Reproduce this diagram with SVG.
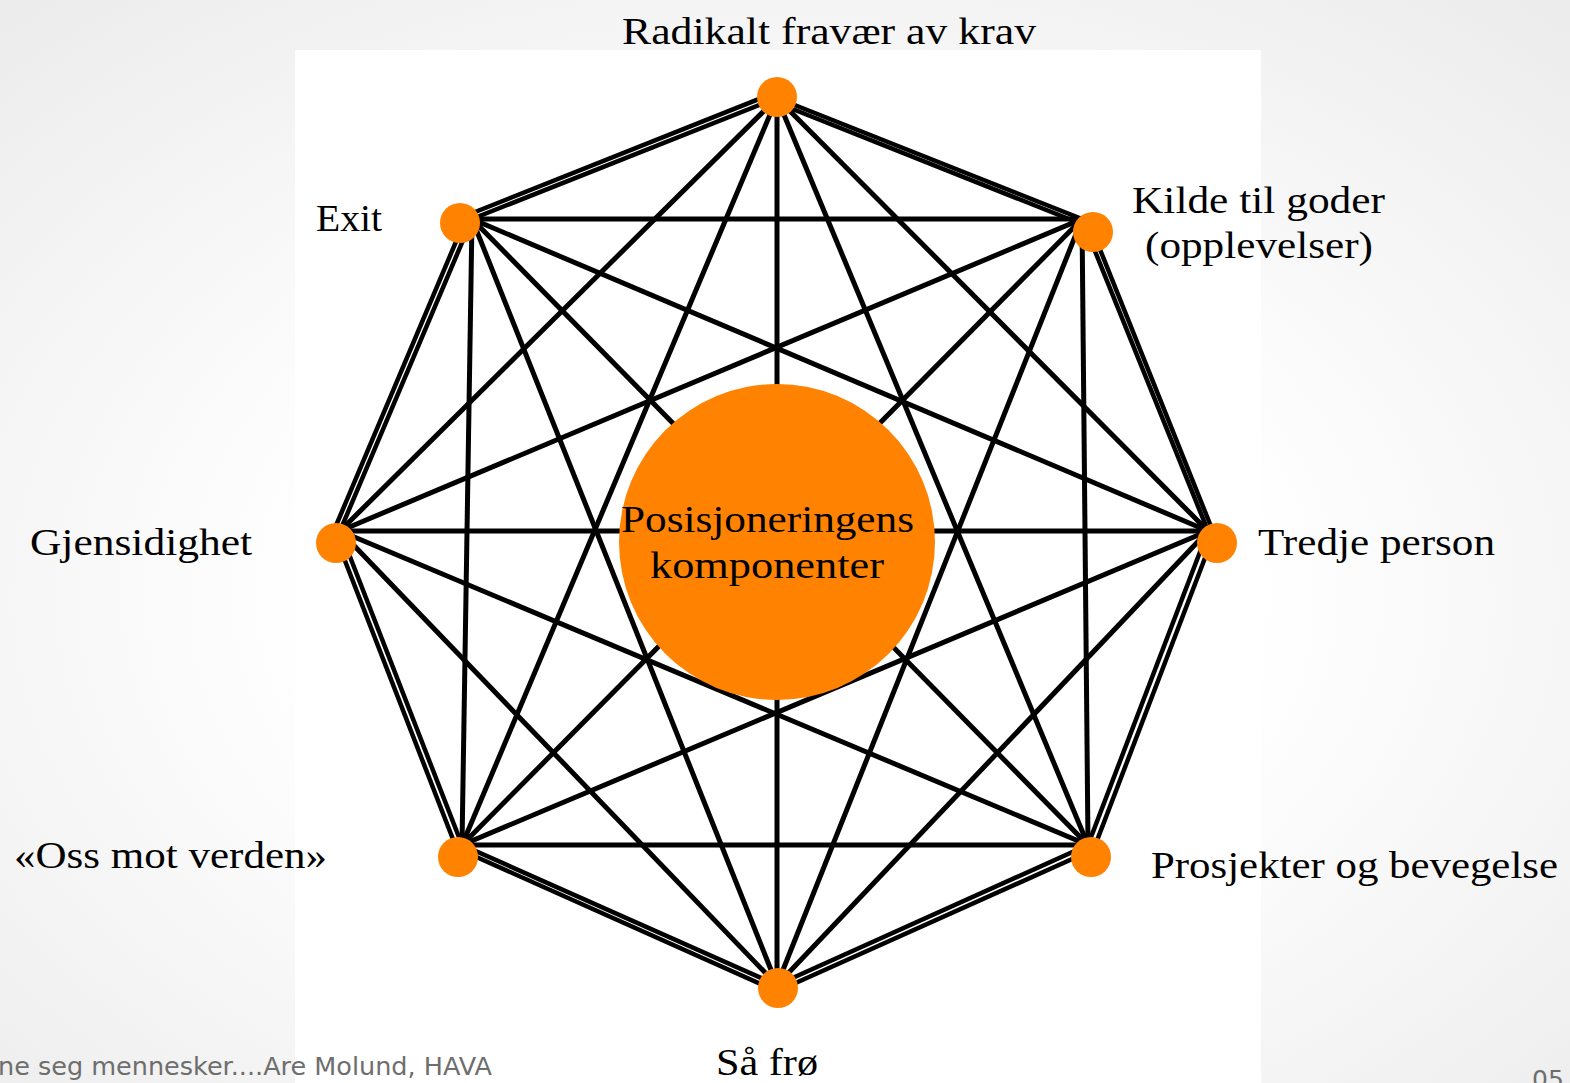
<svg xmlns="http://www.w3.org/2000/svg" width="1570" height="1083" viewBox="0 0 1570 1083">
<defs>
<radialGradient id="bg" cx="0.5" cy="0.55" r="0.75">
<stop offset="0.4" stop-color="#ffffff"/>
<stop offset="1" stop-color="#ebebeb"/>
</radialGradient>
<style>
.lbl{font-family:"Liberation Serif","DejaVu Serif",serif;font-size:38px;fill:#000}
.node{fill:#FF8200}
.e{stroke:#000;stroke-width:5;fill:none}
.o{stroke:#000;stroke-width:4.5;fill:none}
.foot{font-family:"DejaVu Sans","Liberation Sans",sans-serif;font-size:25px;fill:#6e6e6e}
</style>
</defs>
<rect x="0" y="0" width="1570" height="1083" fill="url(#bg)"/>
<rect x="295" y="50" width="966" height="1033" fill="#ffffff"/>
<g id="connectors">
<g class="o">
<line x1="777" y1="98" x2="1082" y2="219"/><line x1="780" y1="104" x2="1084" y2="225"/>
<line x1="1082" y1="219" x2="1208" y2="531"/><line x1="1089" y1="222" x2="1214" y2="534"/>
<line x1="1208" y1="531" x2="1088" y2="845"/><line x1="1213" y1="537" x2="1093" y2="851"/>
<line x1="1088" y1="845" x2="777" y2="985"/><line x1="1090" y1="851" x2="780" y2="990"/>
<line x1="777" y1="985" x2="462" y2="845"/><line x1="774" y1="990" x2="463" y2="851"/>
<line x1="462" y1="845" x2="340" y2="531"/><line x1="456" y1="847" x2="335" y2="535"/>
<line x1="340" y1="531" x2="472" y2="219"/><line x1="335" y1="528" x2="466" y2="218"/>
<line x1="472" y1="219" x2="777" y2="98"/><line x1="470" y1="214" x2="774" y2="93"/>
</g>
<g class="e">
<line x1="777" y1="98" x2="1208" y2="531"/>
<line x1="777" y1="98" x2="1088" y2="845"/>
<line x1="777" y1="98" x2="777" y2="985"/>
<line x1="777" y1="98" x2="462" y2="845"/>
<line x1="777" y1="98" x2="340" y2="531"/>
<line x1="1082" y1="219" x2="1088" y2="845"/>
<line x1="1082" y1="219" x2="777" y2="985"/>
<line x1="1082" y1="219" x2="462" y2="845"/>
<line x1="1082" y1="219" x2="340" y2="531"/>
<line x1="1082" y1="219" x2="472" y2="219"/>
<line x1="1208" y1="531" x2="777" y2="985"/>
<line x1="1208" y1="531" x2="462" y2="845"/>
<line x1="1208" y1="531" x2="340" y2="531"/>
<line x1="1208" y1="531" x2="472" y2="219"/>
<line x1="1088" y1="845" x2="462" y2="845"/>
<line x1="1088" y1="845" x2="340" y2="531"/>
<line x1="1088" y1="845" x2="472" y2="219"/>
<line x1="777" y1="985" x2="340" y2="531"/>
<line x1="777" y1="985" x2="472" y2="219"/>
<line x1="462" y1="845" x2="472" y2="219"/>
</g>
</g>
<g id="center">
<circle cx="777" cy="542" r="158" class="node"/>
<text class="lbl" x="621" y="532" textLength="293" lengthAdjust="spacingAndGlyphs">Posisjoneringens</text>
<text class="lbl" x="650" y="578" textLength="234" lengthAdjust="spacingAndGlyphs">komponenter</text>
</g>
<g id="n-radikalt">
<circle cx="777" cy="97" r="20" class="node"/>
<text class="lbl" x="622" y="44" textLength="414" lengthAdjust="spacingAndGlyphs">Radikalt fravær av krav</text>
</g>
<g id="n-kilde">
<circle cx="1093" cy="232" r="20" class="node"/>
<text class="lbl" x="1132" y="213" textLength="253" lengthAdjust="spacingAndGlyphs">Kilde til goder</text>
<text class="lbl" x="1145" y="258" textLength="228" lengthAdjust="spacingAndGlyphs">(opplevelser)</text>
</g>
<g id="n-tredje">
<circle cx="1217" cy="543" r="20" class="node"/>
<text class="lbl" x="1258" y="555" textLength="237" lengthAdjust="spacingAndGlyphs">Tredje person</text>
</g>
<g id="n-prosjekter">
<circle cx="1091" cy="857" r="20" class="node"/>
<text class="lbl" x="1151" y="878" textLength="407" lengthAdjust="spacingAndGlyphs">Prosjekter og bevegelse</text>
</g>
<g id="n-saafro">
<circle cx="778" cy="988" r="20" class="node"/>
<text class="lbl" x="716" y="1075" textLength="102" lengthAdjust="spacingAndGlyphs">Så frø</text>
</g>
<g id="n-oss">
<circle cx="458" cy="857" r="20" class="node"/>
<text class="lbl" x="14" y="868" textLength="313" lengthAdjust="spacingAndGlyphs">«Oss mot verden»</text>
</g>
<g id="n-gjensidighet">
<circle cx="336" cy="543" r="20" class="node"/>
<text class="lbl" x="30" y="555" textLength="222" lengthAdjust="spacingAndGlyphs">Gjensidighet</text>
</g>
<g id="n-exit">
<circle cx="460" cy="223" r="20" class="node"/>
<text class="lbl" x="316" y="231" textLength="66" lengthAdjust="spacingAndGlyphs">Exit</text>
</g>
<text class="foot" x="-2" y="1075" textLength="494" lengthAdjust="spacingAndGlyphs">ne seg mennesker....Are Molund, HAVA</text>
<text class="foot" x="1532" y="1088">05</text>
</svg>
